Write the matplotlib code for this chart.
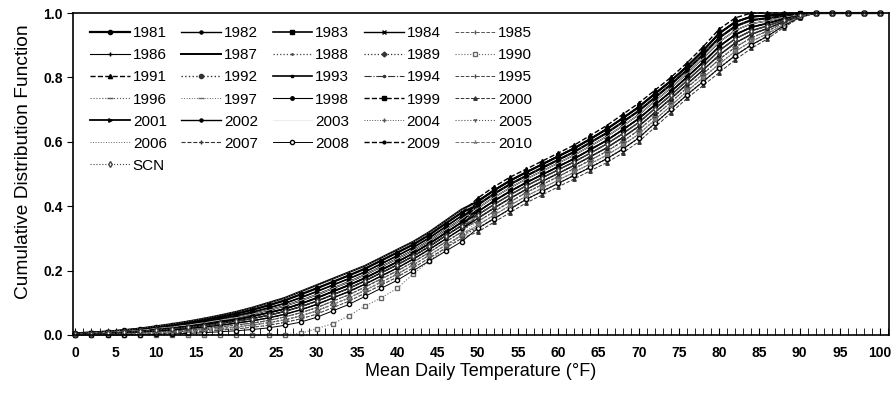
import matplotlib.pyplot as plt
from matplotlib.ticker import MultipleLocator, FormatStrFormatter

plt.rcParams['font.family'] = ['Liberation Sans', 'DejaVu Sans']

# mean daily temperature (deg F), every 2 degrees
temps = list(range(0, 101, 2))

# CDF for each year
cdf_1981 = [.005, .007, .010, .014, .018, .025, .031, .038, .047, .056, .066, .078, .092, .107, .126, .145, .165, .185, .206, .231, .256, .281, .311, .346, .380,
            .404, .438, .468, .494, .519, .544, .569, .598, .627, .661, .696, .737, .778, .823, .871, .923, .959, .978, .984, .991, .997, 1, 1, 1, 1, 1]
cdf_1982 = [.003, .005, .007, .009, .012, .017, .022, .027, .033, .041, .048, .058, .069, .081, .097, .115, .135, .155, .177, .202, .227, .254, .284, .317, .350,
            .373, .405, .435, .463, .488, .513, .538, .565, .593, .625, .660, .703, .745, .790, .835, .883, .920, .945, .960, .978, .993, 1, 1, 1, 1, 1]
cdf_1983 = [.004, .006, .008, .011, .014, .020, .025, .031, .038, .046, .054, .065, .077, .090, .107, .125, .145, .165, .187, .212, .237, .263, .293, .327, .360,
            .415, .449, .479, .505, .530, .555, .580, .609, .639, .673, .708, .749, .789, .834, .883, .937, .972, .989, .992, .996, .999, 1, 1, 1, 1, 1]
cdf_1984 = [.003, .004, .006, .008, .011, .015, .019, .024, .029, .036, .043, .051, .061, .073, .088, .105, .125, .145, .168, .193, .218, .245, .275, .308, .340,
            .383, .416, .446, .473, .498, .523, .548, .576, .604, .637, .672, .714, .756, .801, .847, .896, .933, .956, .968, .982, .994, 1, 1, 1, 1, 1]
cdf_1985 = [.002, .003, .004, .006, .009, .012, .015, .020, .025, .030, .037, .044, .053, .064, .078, .095, .115, .135, .158, .183, .208, .236, .266, .298, .330,
            .352, .383, .413, .442, .467, .492, .517, .543, .570, .601, .636, .680, .723, .768, .811, .856, .894, .923, .944, .969, .990, 1, 1, 1, 1, 1]
cdf_1986 = [.004, .006, .009, .012, .016, .022, .028, .035, .042, .051, .060, .071, .084, .098, .116, .135, .155, .175, .196, .221, .246, .272, .302, .336, .370,
            .394, .427, .457, .484, .509, .534, .559, .587, .616, .649, .684, .726, .767, .812, .859, .910, .946, .967, .976, .987, .996, 1, 1, 1, 1, 1]
cdf_1987 = [.005, .008, .011, .015, .020, .027, .034, .042, .051, .061, .072, .085, .100, .115, .135, .155, .175, .195, .215, .240, .265, .290, .320, .355, .390,
            .415, .449, .479, .505, .530, .555, .580, .609, .639, .673, .708, .749, .789, .834, .883, .937, .972, .989, .992, .996, .999, 1, 1, 1, 1, 1]
cdf_1988 = [.002, .002, .003, .005, .007, .010, .012, .016, .020, .025, .031, .037, .045, .056, .069, .085, .105, .125, .149, .174, .199, .227, .257, .289, .320,
            .362, .394, .424, .452, .477, .502, .527, .554, .581, .613, .648, .691, .734, .779, .823, .869, .907, .934, .952, .973, .991, 1, 1, 1, 1, 1]
cdf_1989 = [.003, .004, .006, .008, .011, .015, .019, .024, .029, .036, .043, .051, .061, .073, .088, .105, .125, .145, .168, .193, .218, .245, .275, .308, .340,
            .352, .383, .413, .442, .467, .492, .517, .543, .570, .601, .636, .680, .723, .768, .811, .856, .894, .923, .944, .969, .990, 1, 1, 1, 1, 1]
cdf_1990 = [0, 0, 0, 0, 0, 0, 0, 0, 0, 0, 0, 0, 0, .001, .005, .020, .035, .060, .090, .115, .145, .190, .230, .270, .310,
            .341, .372, .402, .431, .456, .481, .506, .532, .558, .589, .624, .668, .712, .757, .799, .842, .881, .912, .936, .964, .988, 1, 1, 1, 1, 1]
cdf_1991 = [.005, .007, .010, .014, .018, .025, .031, .038, .047, .056, .066, .078, .092, .107, .126, .145, .165, .185, .206, .231, .256, .281, .311, .346, .380,
            .425, .460, .490, .515, .540, .565, .590, .620, .650, .685, .720, .760, .800, .845, .895, .950, .985, 1, 1, 1, 1, 1, 1, 1, 1, 1]
cdf_1992 = [.001, .002, .002, .003, .005, .007, .009, .012, .016, .020, .025, .031, .038, .047, .059, .075, .095, .115, .139, .164, .189, .218, .248, .279, .310,
            .331, .361, .391, .421, .446, .471, .496, .521, .547, .577, .612, .657, .701, .746, .787, .829, .868, .901, .928, .960, .987, 1, 1, 1, 1, 1]
cdf_1993 = [.004, .006, .009, .012, .016, .022, .028, .035, .042, .051, .060, .071, .084, .098, .116, .135, .155, .175, .196, .221, .246, .272, .302, .336, .370,
            .383, .416, .446, .473, .498, .523, .548, .576, .604, .637, .672, .714, .756, .801, .847, .896, .933, .956, .968, .982, .994, 1, 1, 1, 1, 1]
cdf_1994 = [.002, .003, .004, .006, .009, .012, .015, .020, .025, .030, .037, .044, .053, .064, .078, .095, .115, .135, .158, .183, .208, .236, .266, .298, .330,
            .373, .405, .435, .463, .488, .513, .538, .565, .593, .625, .660, .703, .745, .790, .835, .883, .920, .945, .960, .978, .993, 1, 1, 1, 1, 1]
cdf_1995 = [.002, .002, .003, .005, .007, .010, .012, .016, .020, .025, .031, .037, .045, .056, .069, .085, .105, .125, .149, .174, .199, .227, .257, .289, .320,
            .373, .405, .435, .463, .488, .513, .538, .565, .593, .625, .660, .703, .745, .790, .835, .883, .920, .945, .960, .978, .993, 1, 1, 1, 1, 1]
cdf_1996 = [.003, .005, .007, .009, .012, .017, .022, .027, .033, .041, .048, .058, .069, .081, .097, .115, .135, .155, .177, .202, .227, .254, .284, .317, .350,
            .394, .427, .457, .484, .509, .534, .559, .587, .616, .649, .684, .726, .767, .812, .859, .910, .946, .967, .976, .987, .996, 1, 1, 1, 1, 1]
cdf_1997 = [.001, .002, .002, .003, .005, .007, .009, .012, .016, .020, .025, .031, .038, .047, .059, .075, .095, .115, .139, .164, .189, .218, .248, .279, .310,
            .352, .383, .413, .442, .467, .492, .517, .543, .570, .601, .636, .680, .723, .768, .811, .856, .894, .923, .944, .969, .990, 1, 1, 1, 1, 1]
cdf_1998 = [.003, .004, .006, .008, .011, .015, .019, .024, .029, .036, .043, .051, .061, .073, .088, .105, .125, .145, .168, .193, .218, .245, .275, .308, .340,
            .394, .427, .457, .484, .509, .534, .559, .587, .616, .649, .684, .726, .767, .812, .859, .910, .946, .967, .976, .987, .996, 1, 1, 1, 1, 1]
cdf_1999 = [.004, .006, .008, .011, .014, .020, .025, .031, .038, .046, .054, .065, .077, .090, .107, .125, .145, .165, .187, .212, .237, .263, .293, .327, .360,
            .383, .416, .446, .473, .498, .523, .548, .576, .604, .637, .672, .714, .756, .801, .847, .896, .933, .956, .968, .982, .994, 1, 1, 1, 1, 1]
cdf_2000 = [.001, .001, .001, .002, .003, .005, .006, .009, .011, .015, .019, .024, .030, .039, .050, .065, .085, .105, .130, .155, .180, .209, .239, .270, .300,
            .320, .350, .380, .410, .435, .460, .485, .510, .535, .565, .600, .645, .690, .735, .775, .815, .855, .890, .920, .955, .985, 1, 1, 1, 1, 1]
cdf_2001 = [.003, .005, .007, .009, .012, .017, .022, .027, .033, .041, .048, .058, .069, .081, .097, .115, .135, .155, .177, .202, .227, .254, .284, .317, .350,
            .415, .449, .479, .505, .530, .555, .580, .609, .639, .673, .708, .749, .789, .834, .883, .937, .972, .989, .992, .996, .999, 1, 1, 1, 1, 1]
cdf_2002 = [.002, .003, .004, .006, .009, .012, .015, .020, .025, .030, .037, .044, .053, .064, .078, .095, .115, .135, .158, .183, .208, .236, .266, .298, .330,
            .362, .394, .424, .452, .477, .502, .527, .554, .581, .613, .648, .691, .734, .779, .823, .869, .907, .934, .952, .973, .991, 1, 1, 1, 1, 1]
cdf_2003 = [.004, .006, .008, .011, .014, .020, .025, .031, .038, .046, .054, .065, .077, .090, .107, .125, .145, .165, .187, .212, .237, .263, .293, .327, .360,
            .394, .427, .457, .484, .509, .534, .559, .587, .616, .649, .684, .726, .767, .812, .859, .910, .946, .967, .976, .987, .996, 1, 1, 1, 1, 1]
cdf_2004 = [.001, .001, .001, .002, .003, .005, .006, .009, .011, .015, .019, .024, .030, .039, .050, .065, .085, .105, .130, .155, .180, .209, .239, .270, .300,
            .341, .372, .402, .431, .456, .481, .506, .532, .558, .589, .624, .668, .712, .757, .799, .842, .881, .912, .936, .964, .988, 1, 1, 1, 1, 1]
cdf_2005 = [.002, .002, .003, .005, .007, .010, .012, .016, .020, .025, .031, .037, .045, .056, .069, .085, .105, .125, .149, .174, .199, .227, .257, .289, .320,
            .331, .361, .391, .421, .446, .471, .496, .521, .547, .577, .612, .657, .701, .746, .787, .829, .868, .901, .928, .960, .987, 1, 1, 1, 1, 1]
cdf_2006 = [.005, .008, .011, .015, .020, .027, .034, .042, .051, .061, .072, .085, .100, .115, .135, .155, .175, .195, .215, .240, .265, .290, .320, .355, .390,
            .404, .438, .468, .494, .519, .544, .569, .598, .627, .661, .696, .737, .778, .823, .871, .923, .959, .978, .984, .991, .997, 1, 1, 1, 1, 1]
cdf_2007 = [.003, .004, .006, .008, .011, .015, .019, .024, .029, .036, .043, .051, .061, .073, .088, .105, .125, .145, .168, .193, .218, .245, .275, .308, .340,
            .362, .394, .424, .452, .477, .502, .527, .554, .581, .613, .648, .691, .734, .779, .823, .869, .907, .934, .952, .973, .991, 1, 1, 1, 1, 1]
cdf_2008 = [0, 0, 0, 0, .001, .002, .003, .005, .007, .010, .013, .017, .022, .030, .040, .055, .075, .095, .120, .145, .170, .200, .230, .260, .290,
            .331, .361, .391, .421, .446, .471, .496, .521, .547, .577, .612, .657, .701, .746, .787, .829, .868, .901, .928, .960, .987, 1, 1, 1, 1, 1]
cdf_2009 = [.003, .005, .007, .009, .012, .017, .022, .027, .033, .041, .048, .058, .069, .081, .097, .115, .135, .155, .177, .202, .227, .254, .284, .317, .350,
            .404, .438, .468, .494, .519, .544, .569, .598, .627, .661, .696, .737, .778, .823, .871, .923, .959, .978, .984, .991, .997, 1, 1, 1, 1, 1]
cdf_2010 = [.001, .002, .002, .003, .005, .007, .009, .012, .016, .020, .025, .031, .038, .047, .059, .075, .095, .115, .139, .164, .189, .218, .248, .279, .310,
            .341, .372, .402, .431, .456, .481, .506, .532, .558, .589, .624, .668, .712, .757, .799, .842, .881, .912, .936, .964, .988, 1, 1, 1, 1, 1]
cdf_scn = [.003, .004, .006, .008, .011, .015, .019, .024, .029, .036, .043, .051, .061, .073, .088, .105, .125, .145, .168, .193, .218, .245, .275, .308, .340,
           .373, .405, .435, .463, .488, .513, .538, .565, .593, .625, .660, .703, .745, .790, .835, .883, .920, .945, .960, .978, .993, 1, 1, 1, 1, 1]

names = ['1981', '1982', '1983', '1984', '1985', '1986', '1987', '1988', '1989', '1990',
         '1991', '1992', '1993', '1994', '1995', '1996', '1997', '1998', '1999', '2000',
         '2001', '2002', '2003', '2004', '2005', '2006', '2007', '2008', '2009', '2010', 'SCN']
series = [cdf_1981, cdf_1982, cdf_1983, cdf_1984, cdf_1985, cdf_1986, cdf_1987, cdf_1988, cdf_1989, cdf_1990,
          cdf_1991, cdf_1992, cdf_1993, cdf_1994, cdf_1995, cdf_1996, cdf_1997, cdf_1998, cdf_1999, cdf_2000,
          cdf_2001, cdf_2002, cdf_2003, cdf_2004, cdf_2005, cdf_2006, cdf_2007, cdf_2008, cdf_2009, cdf_2010, cdf_scn]

# line look per series (greyscale, like the printed figure)
styles = {
    '1981': dict(color='black', ls='-', lw=1.6, marker='o', ms=3),
    '1982': dict(color='black', ls='-', lw=1.0, marker='o', ms=2.2),
    '1983': dict(color='black', ls='-', lw=1.2, marker='s', ms=2.5),
    '1984': dict(color='black', ls='-', lw=1.0, marker='x', ms=3),
    '1985': dict(color='#555555', ls='--', lw=0.7, marker='|', ms=3),
    '1986': dict(color='black', ls='-', lw=0.8, marker='+', ms=3),
    '1987': dict(color='black', ls='-', lw=1.4, marker=None),
    '1988': dict(color='#444444', ls=':', lw=0.9, marker='.', ms=2),
    '1989': dict(color='#333333', ls=':', lw=0.9, marker='D', ms=2.5),
    '1990': dict(color='#666666', ls=':', lw=0.8, marker='s', ms=3.5, mfc='white'),
    '1991': dict(color='black', ls='--', lw=1.0, marker='^', ms=3),
    '1992': dict(color='#333333', ls=':', lw=1.0, marker='o', ms=3),
    '1993': dict(color='black', ls='-', lw=1.2, marker='s', ms=2),
    '1994': dict(color='#333333', ls='-.', lw=0.8, marker='.', ms=3),
    '1995': dict(color='#444444', ls='--', lw=0.7, marker='|', ms=3),
    '1996': dict(color='#555555', ls=':', lw=0.8, marker='_', ms=4),
    '1997': dict(color='#666666', ls=':', lw=0.7, marker='_', ms=4),
    '1998': dict(color='black', ls='-', lw=0.8, marker='o', ms=2.5),
    '1999': dict(color='black', ls='--', lw=1.0, marker='s', ms=3.5),
    '2000': dict(color='#333333', ls='--', lw=0.7, marker='^', ms=2.5),
    '2001': dict(color='black', ls='-', lw=1.3, marker='>', ms=2.5),
    '2002': dict(color='black', ls='-', lw=1.0, marker='o', ms=2.2),
    '2003': dict(color='#e4e4e4', ls='-', lw=0.5, marker=None),
    '2004': dict(color='#555555', ls=':', lw=0.7, marker='+', ms=2.5),
    '2005': dict(color='#555555', ls=':', lw=0.8, marker='1', ms=3),
    '2006': dict(color='#666666', ls=':', lw=0.7, marker=None),
    '2007': dict(color='#333333', ls='--', lw=0.8, marker='+', ms=3),
    '2008': dict(color='black', ls='-', lw=0.7, marker='o', ms=3, mfc='white'),
    '2009': dict(color='black', ls='--', lw=1.0, marker='.', ms=4),
    '2010': dict(color='#777777', ls='--', lw=0.7, marker='2', ms=3),
    'SCN': dict(color='#444444', ls=':', lw=0.8, marker='d', ms=3, mfc='white'),
}

fig = plt.figure(figsize=(8.92, 3.95), dpi=100)
ax = fig.add_axes([0.0818, 0.152, 0.9148, 0.815])

handles = []
for name, vals in zip(names, series):
    st = styles[name]
    line, = ax.plot(temps, vals, label=name, clip_on=False, **st)
    handles.append(line)

ax.set_xlim(-0.3, 101.1)
ax.set_ylim(0, 1.0)
ax.set_xticks(range(0, 101, 5))
ax.xaxis.set_minor_locator(MultipleLocator(1))
ax.set_yticks([0, 0.2, 0.4, 0.6, 0.8, 1.0])
ax.yaxis.set_major_formatter(FormatStrFormatter('%.1f'))
ax.tick_params(axis='x', which='both', direction='in', length=5, labelsize=10, pad=8)
ax.tick_params(axis='y', direction='out', length=4, labelsize=10)
for lab in ax.get_xticklabels() + ax.get_yticklabels():
    lab.set_fontweight('bold')
for sp in ax.spines.values():
    sp.set_linewidth(1.2)

ax.set_xlabel('Mean Daily Temperature (\u00b0F)', fontsize=13, labelpad=2)
ax.set_ylabel('Cumulative Distribution Function', fontsize=13.8)
ax.yaxis.set_label_coords(-0.05, 0.539)

# legend is filled row by row in the original
order = [i for j in range(5) for i in range(j, len(handles), 5)]
ax.legend([handles[i] for i in order], [names[i] for i in order],
          ncol=5, loc='upper left', bbox_to_anchor=(0.0134, 0.978), frameon=False,
          fontsize=11, handlelength=2.6, handletextpad=0.2,
          columnspacing=0.95, labelspacing=0.53, borderaxespad=0)

fig.savefig('out.png', dpi=100)
